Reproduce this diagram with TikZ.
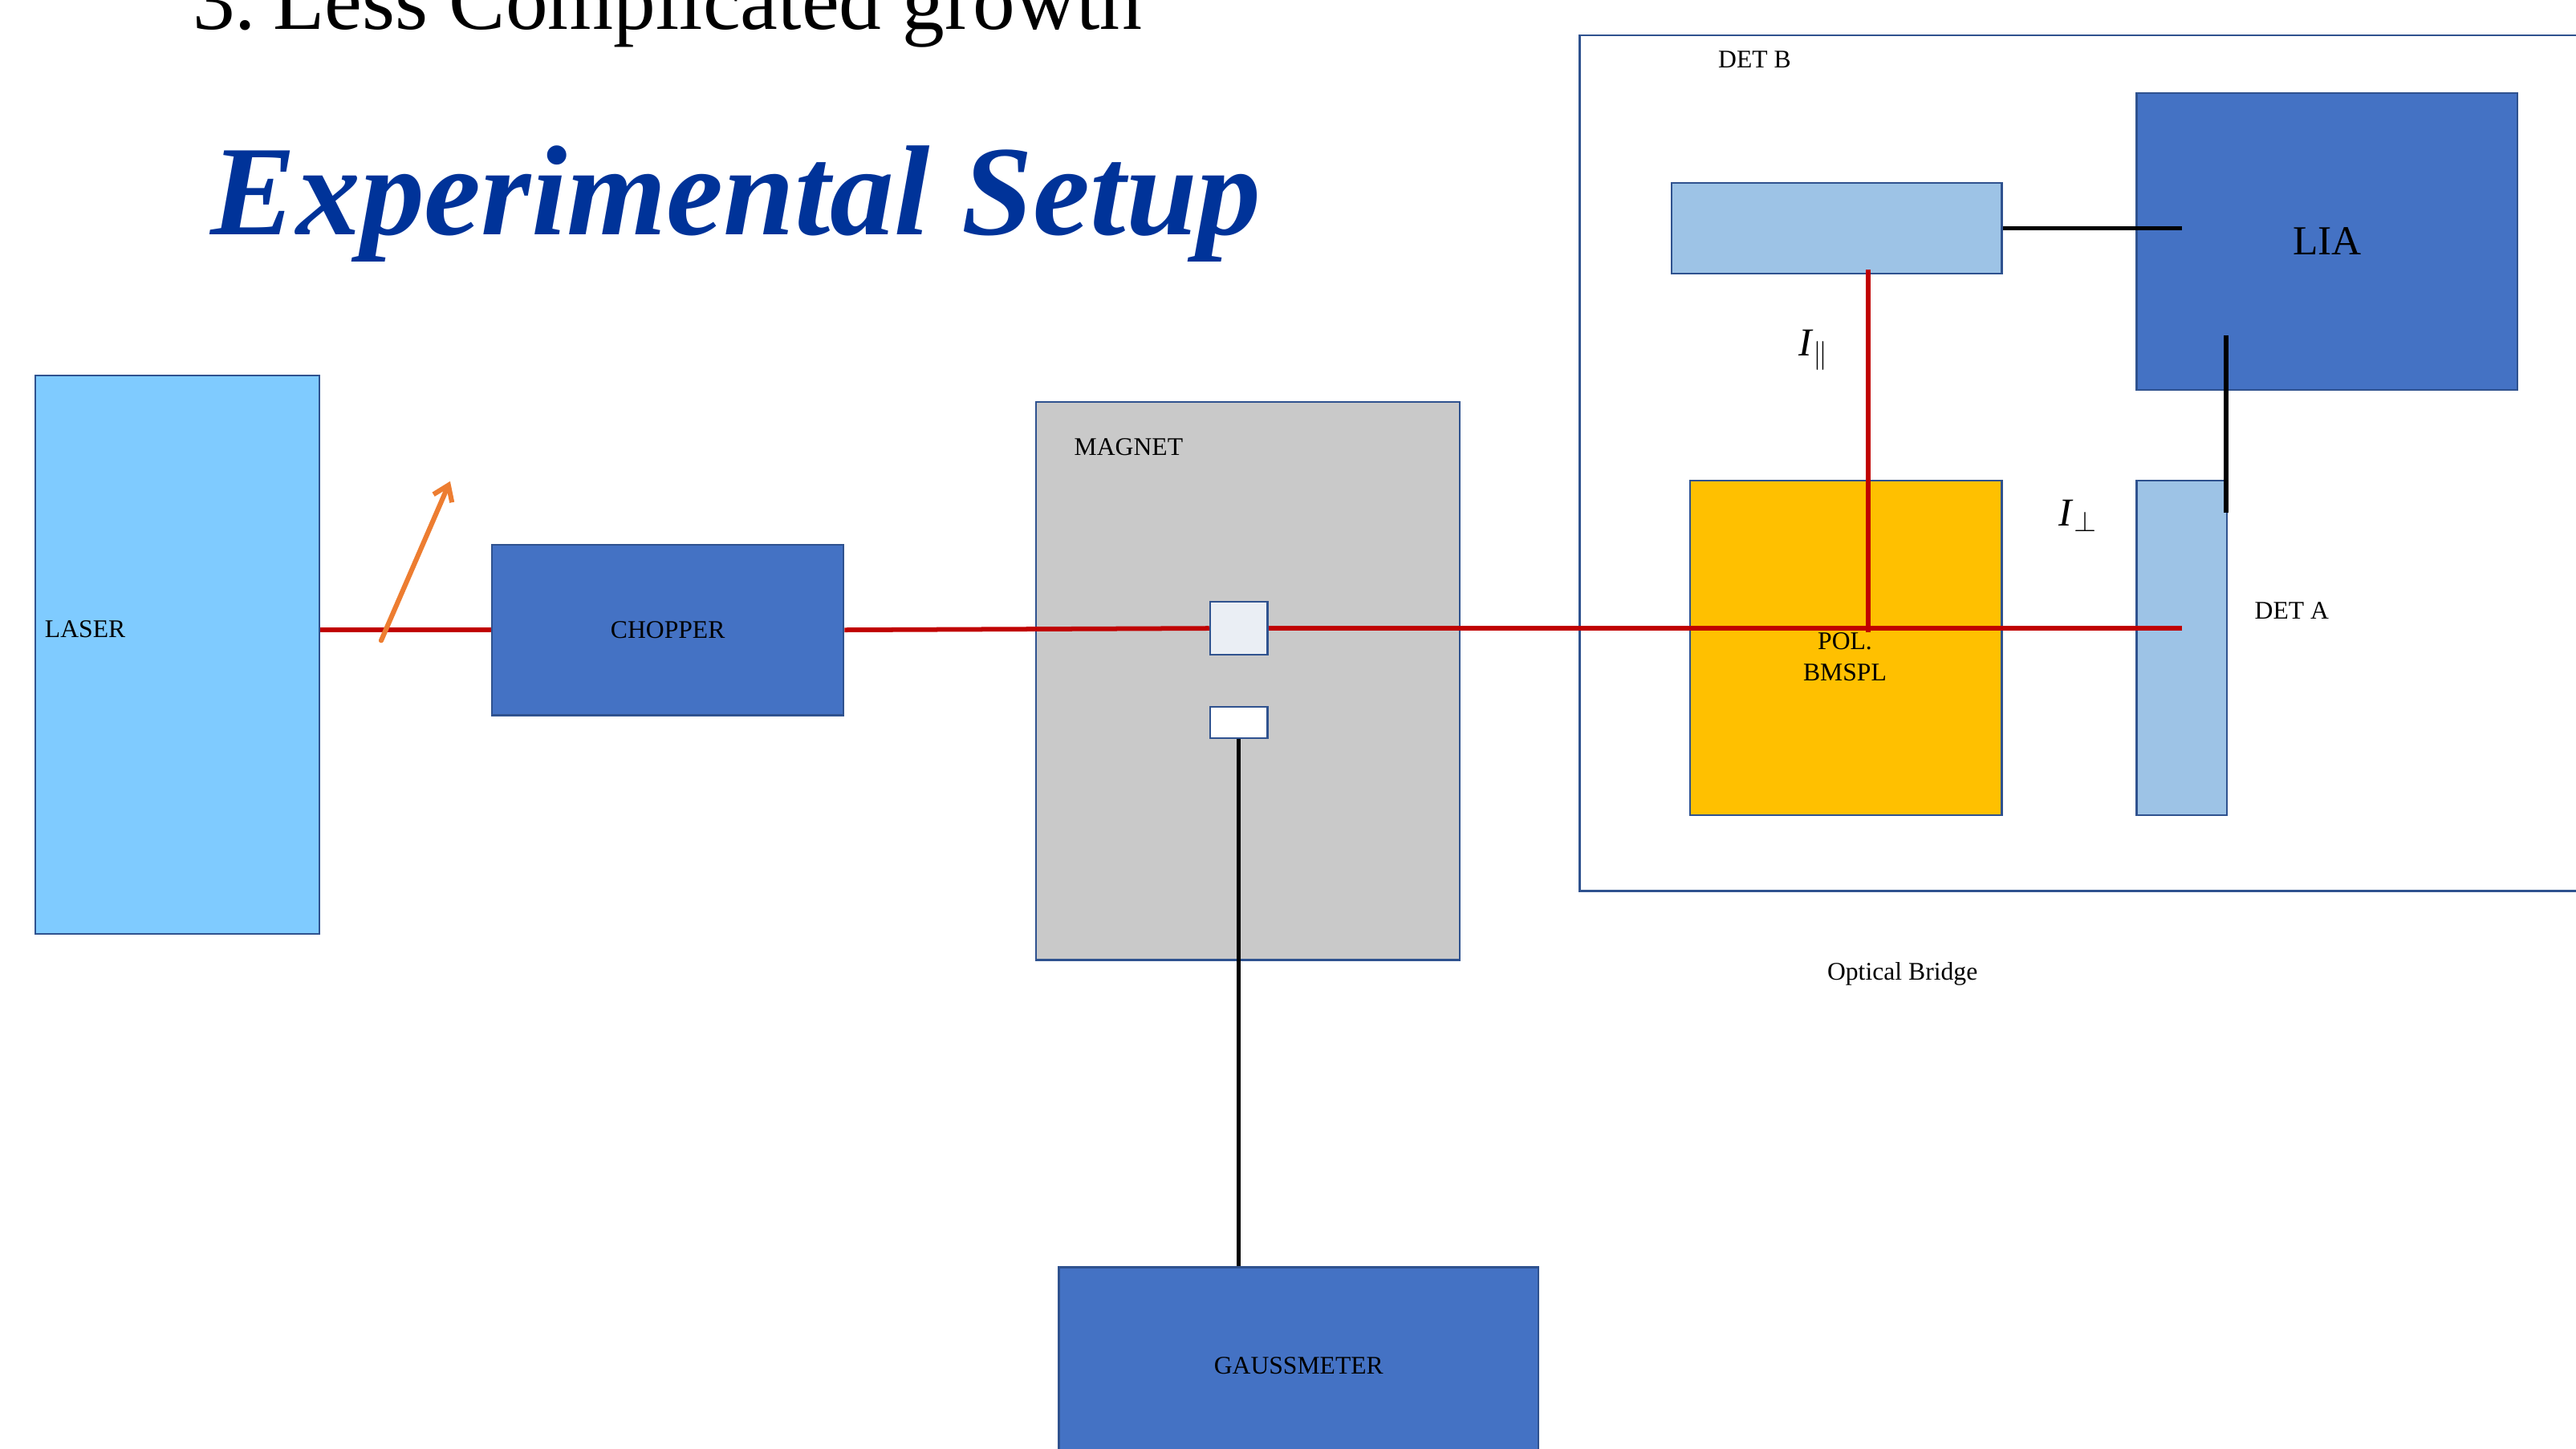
\documentclass[tikz,border=0pt]{standalone}
\usepackage{fontspec}
\setmainfont{Liberation Serif}
\usetikzlibrary{arrows.meta,positioning,calc}

\definecolor{edgeBlue}{RGB}{47,82,143}
\definecolor{boxBlue}{RGB}{68,114,196}
\definecolor{laserBlue}{RGB}{127,203,255}
\definecolor{lightBlue}{RGB}{157,195,230}
\definecolor{magnetGray}{RGB}{201,201,201}
\definecolor{sampleGray}{RGB}{234,238,244}
\definecolor{polGold}{RGB}{255,192,0}
\definecolor{beamRed}{RGB}{192,0,0}
\definecolor{kickOrange}{RGB}{237,125,49}
\definecolor{titleBlue}{RGB}{0,51,153}

\begin{document}
\begin{tikzpicture}[
    x=0.02cm, y=-0.02cm,
    font=\fontsize{8.8}{10.8}\selectfont,
    partBox/.style={
        rectangle, draw=edgeBlue, line width=0.6pt, inner sep=0pt,
        anchor=north west, align=center
    },
    tagText/.style={inner sep=0pt, align=center},
    beamLine/.style={draw=beamRed, line width=1.6pt},
    wireLine/.style={draw=black, line width=1.5pt},
    kickArrow/.style={
        -{Straight Barb[length=5pt, width=7pt]}, draw=kickOrange,
        line width=1.7pt, line cap=round
    }
]
\useasboundingbox (0,0) rectangle (1568,882);

% Headings
\node[anchor=base west, inner sep=0pt, font=\fontsize{29.3}{35}\selectfont] (heading) at (117,18) {3.\hspace{0.2em}Less Complicated growth};
\node[anchor=base west, inner sep=0pt, text=titleBlue, font=\fontsize{44.4}{53}\selectfont\bfseries\itshape] (title) at (128,143) {Experimental Setup};

% Nodes
\node[partBox, fill=laserBlue, minimum width=3.46cm, minimum height=6.8cm] (laser) at (21,228) {};
\node[tagText, anchor=west] (laserTag) at (27,383) {LASER};

\node[partBox, fill=boxBlue, minimum width=4.28cm, minimum height=2.08cm] (chopper) at (299,331) {CHOPPER};

\node[partBox, fill=magnetGray, minimum width=5.16cm, minimum height=6.8cm] (magnet) at (630,244) {};
\node[tagText] (magnetTag) at (687,272) {MAGNET};
\node[partBox, fill=sampleGray, minimum width=0.7cm, minimum height=0.64cm] (sample) at (736,366) {};
\node[partBox, fill=white, minimum width=0.7cm, minimum height=0.38cm] (probe) at (736,430) {};

\node[partBox, fill=boxBlue, minimum width=5.84cm, minimum height=2.4cm] (gauss) at (644,771) {GAUSSMETER};

% Optical bridge
\node[partBox, fill=white, minimum width=12.5cm, minimum height=10.42cm] (bridge) at (961,21) {};
\node[tagText] (detbTag) at (1068,36) {DET B};
\node[tagText] (bridgeTag) at (1158,593) {Optical Bridge};

\node[partBox, fill=lightBlue, minimum width=4.02cm, minimum height=1.1cm] (detb) at (1017,111) {};
\node[partBox, fill=boxBlue, minimum width=4.64cm, minimum height=3.62cm, font=\fontsize{14.3}{17}\selectfont] (lia) at (1300,56) {LIA};
\node[partBox, fill=polGold, minimum width=3.8cm, minimum height=4.08cm] (pol) at (1028,292) {};
\node[partBox, fill=lightBlue, minimum width=1.1cm, minimum height=4.08cm] (deta) at (1300,292) {};
\node[tagText] (detaTag) at (1395,372) {DET A};

\node[tagText, font=\fontsize{13.7}{16}\selectfont] (iPar) at (1104,213) {\textit{I}$_{\parallel}$};
\node[tagText, font=\fontsize{13.7}{16}\selectfont] (iPerp) at (1265,314) {\textit{I}$_{\perp}$};

% Beam path
\coordinate (split) at (1137,385);
\coordinate (kick) at (232,390);
\coordinate (kickTip) at (274,293);

\draw[beamLine] (laser.east |- chopper.west) -- (chopper.west);
\draw[beamLine] (chopper.east) -- (sample.west);
\draw[beamLine] (sample.east) -- (sample.east -| deta.center);
\draw[beamLine] (split) -- ([yshift=0.06cm]split |- detb.south);
\draw[kickArrow] (kick) -- (kickTip);

\node[tagText] (polTag) at (1123,400) {POL.\\BMSPL};

% Wires
\draw[wireLine] (detb.east) -- (detb.east -| deta.center);
\draw[wireLine] ($(deta.north east)+(-1,20)$) -- ($(lia.south -| deta.north east)+(-1,-34)$);
\draw[wireLine] (probe.south) -- (probe.south |- gauss.north);

\end{tikzpicture}
\end{document}
